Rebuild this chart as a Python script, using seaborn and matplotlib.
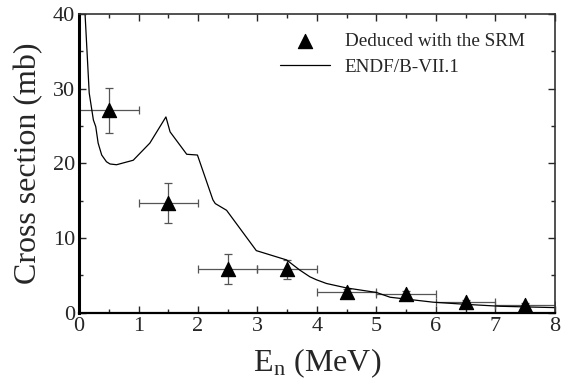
import numpy as np
import pandas as pd
import seaborn as sns
import matplotlib
matplotlib.use('Agg')
import matplotlib.pyplot as plt
from matplotlib.ticker import MultipleLocator

# measured points (SRM)
en_exp = [0.5, 1.5, 2.5, 3.5, 4.5, 5.5, 6.5, 7.5]
xs_exp = [27.1, 14.7, 5.8, 5.8, 2.7, 2.45, 1.4, 1.0]
xs_err = [3.0, 2.7, 2.0, 1.3, 0.5, 0.4, 0.3, 0.3]
en_err = [0.5, 0.5, 0.5, 0.5, 0.5, 0.5, 0.5, 0.5]

# ENDF/B-VII.1 evaluation
en_endf = [0.08, 0.1, 0.17, 0.24, 0.28, 0.32, 0.38, 0.46, 0.52, 0.63, 0.91, 1.19,
           1.46, 1.53, 1.81, 1.99, 2.25, 2.29, 2.48, 2.98, 3.49, 3.71, 3.88, 3.99,
           4.16, 4.5, 5.0, 5.23, 5.95, 6.52, 7.08, 8.0]
xs_endf = [48.0, 40.0, 29.4, 25.8, 24.9, 22.7, 21.1, 20.2, 19.9, 19.8, 20.4, 22.7,
           26.2, 24.2, 21.2, 21.1, 15.1, 14.6, 13.7, 8.3, 7.05, 5.7, 4.8, 4.4,
           3.9, 3.3, 2.7, 2.06, 1.4, 1.1, 0.85, 0.67]

sns.set_style('ticks')
plt.rcParams['font.family'] = ['Liberation Serif', 'DejaVu Serif']
plt.rcParams['mathtext.fontset'] = 'stix'

fig, ax = plt.subplots(figsize=(5.65, 3.85), dpi=100)
fig.subplots_adjust(left=0.14, right=0.982, top=0.964, bottom=0.188)

df_exp = pd.DataFrame({'E': en_exp, 'xs': xs_exp})
df_endf = pd.DataFrame({'E': en_endf, 'xs': xs_endf})

ax.errorbar(en_exp, xs_exp, xerr=en_err, yerr=xs_err, fmt='none', ecolor='#555555',
            elinewidth=0.9, capsize=3, capthick=0.9, zorder=2)
sns.scatterplot(data=df_exp, x='E', y='xs', marker='^', s=105, color='black',
                edgecolor='black', ax=ax, label='Deduced with the SRM', zorder=3)
sns.lineplot(data=df_endf, x='E', y='xs', color='black', linewidth=0.9, ax=ax,
             label='ENDF/B-VII.1', zorder=2)

ax.set_xlim(0, 8)
ax.set_ylim(0, 40)
ax.xaxis.set_major_locator(MultipleLocator(1))
ax.xaxis.set_minor_locator(MultipleLocator(0.5))
ax.yaxis.set_major_locator(MultipleLocator(10))
ax.yaxis.set_minor_locator(MultipleLocator(5))
ax.tick_params(which='both', direction='in', top=True, right=True, labelsize=16, pad=3)
ax.tick_params(which='major', length=5, width=1)
ax.tick_params(which='minor', length=3, width=1)
for s in ax.spines.values():
    s.set_linewidth(1.2)
    s.set_color('#333333')
ax.spines['left'].set_linewidth(2.2)
ax.spines['left'].set_color('black')
ax.spines['bottom'].set_linewidth(1.6)
ax.spines['bottom'].set_color('black')

ax.set_xlabel(r'E$_\mathregular{n}$ (MeV)', fontsize=23, labelpad=8)
ax.set_ylabel('Cross section (mb)', fontsize=23, labelpad=7)

ax.legend(loc='upper right', bbox_to_anchor=(0.969, 0.99), frameon=False,
          fontsize=13.8, handlelength=2.6, borderaxespad=0.4, labelspacing=0.45,
          markerscale=1.0)

fig.savefig('out.png', dpi=100)
